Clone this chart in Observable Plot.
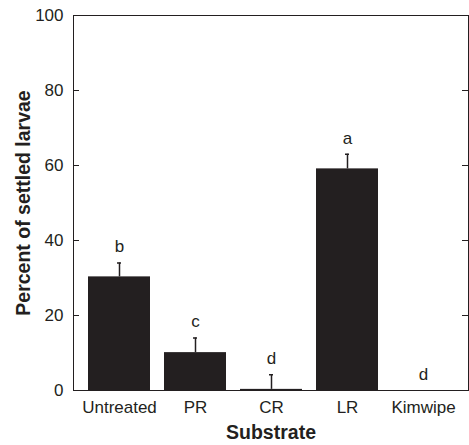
<!DOCTYPE html>
<html><head><meta charset="utf-8">
<script src="https://cdn.jsdelivr.net/npm/d3@7"></script>
<script src="https://cdn.jsdelivr.net/npm/@observablehq/plot@0.6"></script>
<style>body{margin:0;background:#fff}</style>
</head><body><div id="chart"></div>
<script>
const substrates = ["Untreated", "PR", "CR", "LR", "Kimwipe"];
const means = [30.3, 10.1, 0.3, 59.1, 0];
const upper = [34.0, 14.0, 4.2, 63.0, 0];
const letters = ["b", "c", "d", "a", "d"];
const yTicks = [0, 20, 40, 60, 80, 100];

const data = substrates.map((s, i) => ({sub: s, mean: means[i], hi: upper[i], letter: letters[i]}));
const errData = data.filter(d => d.hi > d.mean);

const W = 469, H = 445, mL = 73, mR = 1, mT = 15, mB = 55;
const plotW = W - mL - mR;
const pad = 0.19;
const band = plotW / substrates.length * (1 - pad);
const capInset = (band - 6) / 2;

const chart = Plot.plot({
  width: W, height: H,
  marginLeft: mL, marginRight: mR, marginTop: mT, marginBottom: mB,
  style: {fontFamily: "'Liberation Sans', Arial, Helvetica, sans-serif", fontSize: "17px", color: "#231f20", background: "#fff"},
  x: {domain: substrates, padding: pad, align: 0.5},
  y: {domain: [0, 100]},
  marks: [
    Plot.barY(data, {x: "sub", y: "mean", fill: "#231f20"}),
    Plot.ruleX(errData, {x: "sub", y1: "mean", y2: "hi", stroke: "#231f20", strokeWidth: 1.5}),
    Plot.tickY(errData, {x: "sub", y: "hi", stroke: "#231f20", strokeWidth: 1.5, insetLeft: capInset, insetRight: capInset}),
    Plot.text(data, {x: "sub", y: "hi", text: "letter", dy: -16, fontSize: 17, fill: "#231f20"}),
    Plot.ruleY(yTicks.slice(1, -1), {y: d => d, insetRight: plotW - 6, stroke: "#231f20"}),
    Plot.ruleY(yTicks.slice(1, -1), {y: d => d, insetLeft: plotW - 6, stroke: "#231f20"}),
    Plot.frame({stroke: "#231f20", strokeWidth: 1}),
    Plot.axisY({ticks: yTicks, tickSize: 0, tickPadding: 10, fontSize: 17,
      label: "Percent of settled larvae", labelAnchor: "center", labelArrow: "none", labelOffset: 57}),
    Plot.axisX({tickSize: 0, tickPadding: 10, fontSize: 17,
      label: "Substrate", labelAnchor: "center", labelArrow: "none", labelOffset: 48})
  ]
});
document.getElementById("chart").append(chart);
// bold axis labels
chart.querySelectorAll("g[aria-label='y-axis label'] text, g[aria-label='x-axis label'] text").forEach(t => {
  t.setAttribute("font-weight", "bold");
  t.setAttribute("font-size", "19.5");
});
</script>
</body></html>
